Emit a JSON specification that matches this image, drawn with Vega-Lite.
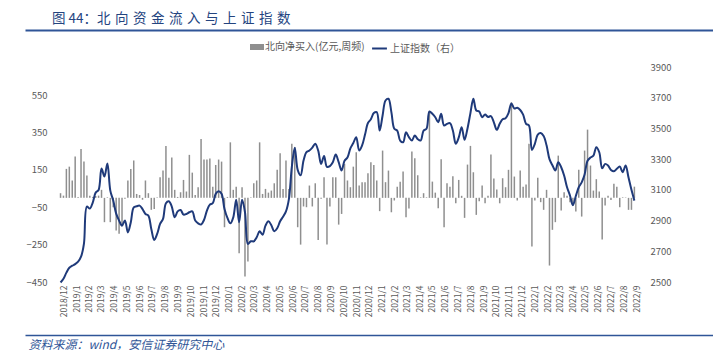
{
  "$schema": "https://vega.github.io/schema/vega-lite/v6.json",
  "width": 688,
  "height": 215,
  "autosize": {"type": "none"},
  "padding": {"left": 25, "top": 67, "right": 0, "bottom": 68},
  "background": "white",
  "config": {"font": "Noto Sans CJK SC", "view": {"stroke": null}},
  "title": {"text": "图 44：北\u2004向\u2004资\u2004金\u2004流\u2004入\u2004与\u2004上\u2004证\u2004指\u2004数", "anchor": "start", "frame": "group", "dx": 27, "offset": 5, "fontSize": 13.5, "fontWeight": "normal", "color": "#24447f"},
  "data": {"values": [
{"date":"2018-11-25","flow":25,"index":2497},
{"date":"2018-12-02","flow":12,"index":2521},
{"date":"2018-12-09","flow":155,"index":2561},
{"date":"2018-12-16","flow":167,"index":2593},
{"date":"2018-12-23","flow":93,"index":2606},
{"date":"2018-12-30","flow":221,"index":2616},
{"date":"2019-01-06","flow":5,"index":2632},
{"date":"2019-01-13","flow":262,"index":2665},
{"date":"2019-01-20","flow":194,"index":2750},
{"date":"2019-01-27","flow":119,"index":2991},
{"date":"2019-02-03","flow":12,"index":2978},
{"date":"2019-02-10","flow":5,"index":3017},
{"date":"2019-02-17","flow":10,"index":3082},
{"date":"2019-02-24","flow":12,"index":3099},
{"date":"2019-03-03","flow":43,"index":3239},
{"date":"2019-03-10","flow":-130,"index":3187},
{"date":"2019-03-17","flow":3,"index":3271},
{"date":"2019-03-24","flow":-130,"index":3095},
{"date":"2019-03-31","flow":-50,"index":3030},
{"date":"2019-04-07","flow":-175,"index":2945},
{"date":"2019-04-14","flow":-192,"index":2900},
{"date":"2019-04-21","flow":-139,"index":2867},
{"date":"2019-04-28","flow":-5,"index":2900},
{"date":"2019-05-05","flow":93,"index":2823},
{"date":"2019-05-12","flow":155,"index":2889},
{"date":"2019-05-19","flow":200,"index":2986},
{"date":"2019-05-26","flow":21,"index":2993},
{"date":"2019-06-02","flow":15,"index":2997},
{"date":"2019-06-09","flow":-10,"index":2975},
{"date":"2019-06-16","flow":93,"index":2943},
{"date":"2019-06-23","flow":25,"index":2932},
{"date":"2019-06-30","flow":-64,"index":2845},
{"date":"2019-07-07","flow":-59,"index":2774},
{"date":"2019-07-14","flow":3,"index":2813},
{"date":"2019-07-21","flow":110,"index":2878},
{"date":"2019-07-28","flow":146,"index":2911},
{"date":"2019-08-04","flow":278,"index":3013},
{"date":"2019-08-11","flow":107,"index":3026},
{"date":"2019-08-18","flow":216,"index":2991},
{"date":"2019-08-25","flow":43,"index":2921},
{"date":"2019-09-01","flow":5,"index":2960},
{"date":"2019-09-08","flow":30,"index":2969},
{"date":"2019-09-15","flow":96,"index":2939},
{"date":"2019-09-22","flow":34,"index":2943},
{"date":"2019-09-29","flow":230,"index":2954},
{"date":"2019-10-06","flow":135,"index":2960},
{"date":"2019-10-13","flow":16,"index":2900},
{"date":"2019-10-20","flow":57,"index":2882},
{"date":"2019-10-27","flow":315,"index":2874},
{"date":"2019-11-03","flow":205,"index":2904},
{"date":"2019-11-10","flow":205,"index":2965},
{"date":"2019-11-17","flow":210,"index":3004},
{"date":"2019-11-24","flow":60,"index":3013},
{"date":"2019-12-01","flow":176,"index":3074},
{"date":"2019-12-08","flow":205,"index":3091},
{"date":"2019-12-15","flow":194,"index":3074},
{"date":"2019-12-22","flow":-157,"index":2975},
{"date":"2019-12-29","flow":5,"index":2917},
{"date":"2020-01-05","flow":297,"index":2882},
{"date":"2020-01-12","flow":43,"index":2921},
{"date":"2020-01-19","flow":60,"index":3035},
{"date":"2020-01-26","flow":-296,"index":2889},
{"date":"2020-02-02","flow":57,"index":3035},
{"date":"2020-02-09","flow":-420,"index":2954},
{"date":"2020-02-16","flow":-340,"index":2748},
{"date":"2020-02-23","flow":3,"index":2765},
{"date":"2020-03-01","flow":78,"index":2765},
{"date":"2020-03-08","flow":93,"index":2791},
{"date":"2020-03-15","flow":297,"index":2830},
{"date":"2020-03-22","flow":21,"index":2808},
{"date":"2020-03-29","flow":48,"index":2867},
{"date":"2020-04-05","flow":28,"index":2895},
{"date":"2020-04-12","flow":39,"index":2870},
{"date":"2020-04-19","flow":78,"index":2830},
{"date":"2020-04-26","flow":150,"index":2850},
{"date":"2020-05-03","flow":239,"index":2895},
{"date":"2020-05-10","flow":48,"index":2925},
{"date":"2020-05-17","flow":200,"index":2960},
{"date":"2020-05-24","flow":48,"index":3040},
{"date":"2020-05-31","flow":289,"index":3250},
{"date":"2020-06-07","flow":271,"index":3375},
{"date":"2020-06-14","flow":-157,"index":3230},
{"date":"2020-06-21","flow":-250,"index":3195},
{"date":"2020-06-28","flow":-46,"index":3291},
{"date":"2020-07-05","flow":-50,"index":3345},
{"date":"2020-07-12","flow":66,"index":3356},
{"date":"2020-07-19","flow":-46,"index":3375},
{"date":"2020-07-26","flow":78,"index":3400},
{"date":"2020-08-02","flow":-225,"index":3356},
{"date":"2020-08-09","flow":-5,"index":3269},
{"date":"2020-08-16","flow":110,"index":3320},
{"date":"2020-08-23","flow":-250,"index":3250},
{"date":"2020-08-30","flow":-46,"index":3255},
{"date":"2020-09-06","flow":110,"index":3280},
{"date":"2020-09-13","flow":110,"index":3330},
{"date":"2020-09-20","flow":-143,"index":3280},
{"date":"2020-09-27","flow":-86,"index":3226},
{"date":"2020-10-04","flow":182,"index":3290},
{"date":"2020-10-11","flow":93,"index":3310},
{"date":"2020-10-18","flow":57,"index":3370},
{"date":"2020-10-25","flow":167,"index":3405},
{"date":"2020-11-01","flow":244,"index":3443},
{"date":"2020-11-08","flow":66,"index":3356},
{"date":"2020-11-15","flow":84,"index":3389},
{"date":"2020-11-22","flow":84,"index":3460},
{"date":"2020-11-29","flow":132,"index":3535},
{"date":"2020-12-06","flow":191,"index":3560},
{"date":"2020-12-13","flow":176,"index":3600},
{"date":"2020-12-20","flow":93,"index":3606},
{"date":"2020-12-27","flow":-71,"index":3486},
{"date":"2021-01-03","flow":253,"index":3584},
{"date":"2021-01-10","flow":84,"index":3682},
{"date":"2021-01-17","flow":146,"index":3693},
{"date":"2021-01-24","flow":-77,"index":3606},
{"date":"2021-01-31","flow":-14,"index":3498},
{"date":"2021-02-07","flow":60,"index":3486},
{"date":"2021-02-14","flow":86,"index":3421},
{"date":"2021-02-21","flow":141,"index":3410},
{"date":"2021-02-28","flow":-103,"index":3475},
{"date":"2021-03-07","flow":-57,"index":3443},
{"date":"2021-03-14","flow":248,"index":3421},
{"date":"2021-03-21","flow":212,"index":3454},
{"date":"2021-03-28","flow":121,"index":3430},
{"date":"2021-04-04","flow":3,"index":3421},
{"date":"2021-04-11","flow":25,"index":3486},
{"date":"2021-04-18","flow":3,"index":3498},
{"date":"2021-04-25","flow":463,"index":3610},
{"date":"2021-05-02","flow":87,"index":3595},
{"date":"2021-05-09","flow":28,"index":3573},
{"date":"2021-05-16","flow":-55,"index":3541},
{"date":"2021-05-23","flow":207,"index":3595},
{"date":"2021-05-30","flow":-157,"index":3519},
{"date":"2021-06-06","flow":78,"index":3530},
{"date":"2021-06-13","flow":60,"index":3534},
{"date":"2021-06-20","flow":116,"index":3486},
{"date":"2021-06-27","flow":-29,"index":3400},
{"date":"2021-07-04","flow":96,"index":3440},
{"date":"2021-07-11","flow":11,"index":3508},
{"date":"2021-07-18","flow":-107,"index":3426},
{"date":"2021-07-25","flow":178,"index":3500},
{"date":"2021-08-01","flow":278,"index":3600},
{"date":"2021-08-08","flow":137,"index":3693},
{"date":"2021-08-15","flow":-91,"index":3617},
{"date":"2021-08-22","flow":-18,"index":3610},
{"date":"2021-08-29","flow":66,"index":3573},
{"date":"2021-09-05","flow":-29,"index":3590},
{"date":"2021-09-12","flow":12,"index":3575},
{"date":"2021-09-19","flow":232,"index":3580},
{"date":"2021-09-26","flow":103,"index":3540},
{"date":"2021-10-03","flow":45,"index":3491},
{"date":"2021-10-10","flow":-29,"index":3530},
{"date":"2021-10-17","flow":105,"index":3560},
{"date":"2021-10-24","flow":57,"index":3566},
{"date":"2021-10-31","flow":150,"index":3600},
{"date":"2021-11-07","flow":511,"index":3663},
{"date":"2021-11-14","flow":114,"index":3630},
{"date":"2021-11-21","flow":-14,"index":3635},
{"date":"2021-11-28","flow":146,"index":3620},
{"date":"2021-12-05","flow":60,"index":3590},
{"date":"2021-12-12","flow":71,"index":3530},
{"date":"2021-12-19","flow":290,"index":3519},
{"date":"2021-12-26","flow":-260,"index":3360},
{"date":"2022-01-02","flow":-14,"index":3400},
{"date":"2022-01-09","flow":107,"index":3460},
{"date":"2022-01-16","flow":-23,"index":3470},
{"date":"2022-01-23","flow":-64,"index":3450},
{"date":"2022-01-30","flow":43,"index":3390},
{"date":"2022-02-06","flow":-362,"index":3300},
{"date":"2022-02-13","flow":-171,"index":3260},
{"date":"2022-02-20","flow":-130,"index":3226},
{"date":"2022-02-27","flow":226,"index":3280},
{"date":"2022-03-06","flow":-68,"index":3247},
{"date":"2022-03-13","flow":30,"index":3193},
{"date":"2022-03-20","flow":12,"index":3117},
{"date":"2022-03-27","flow":-23,"index":3063},
{"date":"2022-04-03","flow":-41,"index":3000},
{"date":"2022-04-10","flow":-73,"index":3060},
{"date":"2022-04-17","flow":150,"index":3117},
{"date":"2022-04-24","flow":-100,"index":3149},
{"date":"2022-05-01","flow":253,"index":3200},
{"date":"2022-05-08","flow":365,"index":3290},
{"date":"2022-05-15","flow":173,"index":3310},
{"date":"2022-05-22","flow":39,"index":3323},
{"date":"2022-05-29","flow":100,"index":3378},
{"date":"2022-06-05","flow":34,"index":3345},
{"date":"2022-06-12","flow":-223,"index":3240},
{"date":"2022-06-19","flow":-41,"index":3269},
{"date":"2022-06-26","flow":12,"index":3258},
{"date":"2022-07-03","flow":-11,"index":3230},
{"date":"2022-07-10","flow":75,"index":3221},
{"date":"2022-07-17","flow":60,"index":3237},
{"date":"2022-07-24","flow":-50,"index":3252},
{"date":"2022-07-31","flow":3,"index":3215},
{"date":"2022-08-07","flow":2,"index":3258},
{"date":"2022-08-14","flow":-64,"index":3180},
{"date":"2022-08-21","flow":-64,"index":3100},
{"date":"2022-08-28","flow":60,"index":3030}
  ]},
  "layer": [
    {
      "mark": {"type": "bar", "width": 1.5, "color": "#8f8f8f"},
      "encoding": {
        "x": {"field": "date", "type": "temporal",
          "scale": {"domain": [{"year": 2018, "month": 9, "date": 13}, {"year": 2023, "month": 2, "date": 20}], "nice": false},
          "axis": {"orient": "bottom", "offset": 53, "labelPadding": -50, "domain": true, "domainColor": "#2f5597", "domainWidth": 1.5, "ticks": false, "grid": false,
            "values": [
              {"year": 2018, "month": 12, "date": 1},
              {"year": 2019, "month": 1, "date": 1}, {"year": 2019, "month": 2, "date": 1}, {"year": 2019, "month": 3, "date": 1}, {"year": 2019, "month": 4, "date": 1}, {"year": 2019, "month": 5, "date": 1}, {"year": 2019, "month": 6, "date": 1}, {"year": 2019, "month": 7, "date": 1}, {"year": 2019, "month": 8, "date": 1}, {"year": 2019, "month": 9, "date": 1}, {"year": 2019, "month": 10, "date": 1}, {"year": 2019, "month": 11, "date": 1}, {"year": 2019, "month": 12, "date": 1},
              {"year": 2020, "month": 1, "date": 1}, {"year": 2020, "month": 2, "date": 1}, {"year": 2020, "month": 3, "date": 1}, {"year": 2020, "month": 4, "date": 1}, {"year": 2020, "month": 5, "date": 1}, {"year": 2020, "month": 6, "date": 1}, {"year": 2020, "month": 7, "date": 1}, {"year": 2020, "month": 8, "date": 1}, {"year": 2020, "month": 9, "date": 1}, {"year": 2020, "month": 10, "date": 1}, {"year": 2020, "month": 11, "date": 1}, {"year": 2020, "month": 12, "date": 1},
              {"year": 2021, "month": 1, "date": 1}, {"year": 2021, "month": 2, "date": 1}, {"year": 2021, "month": 3, "date": 1}, {"year": 2021, "month": 4, "date": 1}, {"year": 2021, "month": 5, "date": 1}, {"year": 2021, "month": 6, "date": 1}, {"year": 2021, "month": 7, "date": 1}, {"year": 2021, "month": 8, "date": 1}, {"year": 2021, "month": 9, "date": 1}, {"year": 2021, "month": 10, "date": 1}, {"year": 2021, "month": 11, "date": 1}, {"year": 2021, "month": 12, "date": 1},
              {"year": 2022, "month": 1, "date": 1}, {"year": 2022, "month": 2, "date": 1}, {"year": 2022, "month": 3, "date": 1}, {"year": 2022, "month": 4, "date": 1}, {"year": 2022, "month": 5, "date": 1}, {"year": 2022, "month": 6, "date": 1}, {"year": 2022, "month": 7, "date": 1}, {"year": 2022, "month": 8, "date": 1}, {"year": 2022, "month": 9, "date": 1}
            ],
            "format": "%Y/%-m", "labelAngle": -90, "labelOverlap": false, "labelFlush": false, "labelBound": false,
            "labelFontSize": 8.5, "labelColor": "#595959",
            "title": "资料来源：wind，安信证券研究中心", "titleX": 3, "titleY": 9, "titleAlign": "left", "titleAnchor": "start", "titleBaseline": "middle", "titleFontStyle": "italic", "titleFontWeight": "normal", "titleFontSize": 12, "titleColor": "#2f5597"}},
        "y": {"field": "flow", "type": "quantitative",
          "scale": {"domain": [-450, 700], "nice": false, "zero": false},
          "axis": {"offset": -28, "values": [-450, -250, -50, 150, 350, 550], "domain": false, "ticks": false, "grid": false, "title": null, "labelPadding": 6, "labelFontSize": 9.5, "labelColor": "#595959"}},
        "color": {"datum": "北向净买入(亿元,周频)", "type": "nominal",
          "scale": {"range": ["#8f8f8f"]},
          "legend": {"orient": "none", "legendX": 225, "legendY": -27, "title": null, "symbolType": "M-1,-0.43H1V0.43H-1Z", "symbolSize": 196, "symbolStrokeWidth": 0, "labelFontSize": 10, "labelColor": "#595959", "labelOffset": 1}}
      }
    },
    {
      "mark": {"type": "line", "interpolate": "catmull-rom", "strokeWidth": 2, "color": "#1f3a7a"},
      "encoding": {
        "x": {"field": "date", "type": "temporal",
          "axis": {"orient": "top", "offset": 37, "domain": true, "domainColor": "#2f5597", "domainWidth": 2, "labels": false, "ticks": false, "grid": false, "title": null}},
        "y": {"field": "index", "type": "quantitative",
          "scale": {"domain": [2500, 3900], "nice": false, "zero": false},
          "axis": {"orient": "right", "offset": -70, "format": "d", "values": [2500, 2700, 2900, 3100, 3300, 3500, 3700, 3900], "domain": false, "ticks": false, "grid": false, "title": null, "labelPadding": 7, "labelFontSize": 9.5, "labelColor": "#595959"}},
        "color": {"datum": "上证指数（右）", "type": "nominal",
          "scale": {"range": ["#1f3a7a"]},
          "legend": {"orient": "none", "legendX": 346, "legendY": -27, "title": null, "symbolType": "stroke", "symbolStrokeWidth": 2, "symbolSize": 220, "labelFontSize": 10, "labelColor": "#595959", "labelOffset": 2}}
      }
    }
  ],
  "resolve": {"scale": {"y": "independent", "color": "independent"}, "axis": {"x": "independent"}, "legend": {"color": "independent"}}
}
